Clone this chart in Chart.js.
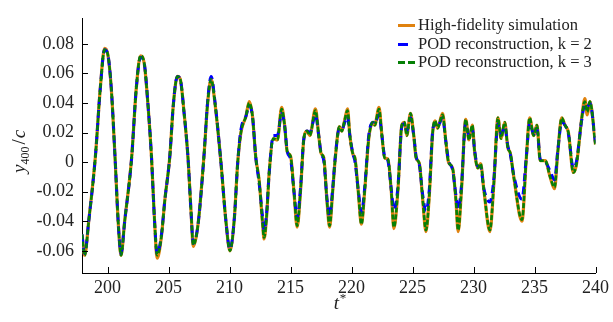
<!DOCTYPE html>
<html>
<head>
<meta charset="utf-8">
<script src="https://cdn.jsdelivr.net/npm/chart.js@4"></script>
<style>
  body { margin: 0; background: #fff; }
  #wrap { width: 613px; height: 322px; }
</style>
</head>
<body>
<div id="wrap"><canvas id="lineChart"></canvas></div>
<script>
// time t* (at peaks, troughs and turns)
var tValues = [
  197.9, 198.12, 198.45, 198.99, 199.4, 199.75, 200.0, 200.3, 200.61, 200.9,
  201.1, 201.4, 201.97, 202.35, 202.7, 203.0, 203.3, 203.6, 203.85, 204.06,
  204.4, 204.7, 205.09, 205.4, 205.72, 205.96, 206.25, 206.59, 206.85, 207.02,
  207.4, 207.89, 208.2, 208.49, 208.8, 209.3, 209.7, 210.03, 210.39, 210.66,
  210.93, 211.34, 211.61, 211.88, 212.15, 212.42, 212.69, 212.83, 213.05, 213.24,
  213.59, 213.92, 214.27, 214.51, 214.73, 215.0, 215.27, 215.54, 215.82, 216.09,
  216.36, 216.58, 217.04, 217.31, 217.5, 217.72, 217.99, 218.2, 218.45, 218.67,
  219.0, 219.2, 219.45, 219.67, 219.86, 220.13, 220.27, 220.54, 220.81, 221.08,
  221.41, 221.76, 221.9, 222.25, 222.49, 222.71, 222.98, 223.25, 223.47, 223.8,
  224.12, 224.34, 224.53, 224.83, 225.1, 225.29, 225.56, 225.83, 226.1, 226.37,
  226.65, 226.84, 227.05, 227.46, 227.73, 227.95, 228.28, 228.55, 228.74, 229.01,
  229.36, 229.63, 229.9, 230.09, 230.36, 230.58, 230.85, 231.34, 231.67, 232.0,
  232.26, 232.56, 232.81, 233.02, 233.3, 233.97, 234.33, 234.6, 234.93, 235.2,
  235.47, 235.88, 236.28, 236.64, 236.91, 237.23, 237.5, 237.78, 238.18, 238.45,
  238.86, 239.13, 239.32, 239.54, 240.0
];

var hiFi = [
  -0.049, -0.063, -0.040, 0.003, 0.050, 0.077, 0.0735, 0.050, 0.003, -0.045,
  -0.063, -0.040, 0.003, 0.050, 0.072, 0.067, 0.040, 0.003, -0.040, -0.065,
  -0.051, -0.025, 0.003, 0.040, 0.058, 0.056, 0.035, 0.003, -0.035, -0.057,
  -0.043, 0.003, 0.040, 0.056, 0.040, -0.001, -0.040, -0.060, -0.038, -0.001,
  0.020, 0.031, 0.041, 0.031, 0.003, -0.012, -0.040, -0.052, -0.035, -0.008,
  0.016, 0.015, 0.037, 0.025, 0.007, 0.004, -0.019, -0.044, -0.019, 0.016,
  0.021, 0.018, 0.036, 0.018, 0.006, 0.003, -0.027, -0.044, -0.020, 0.003,
  0.024, 0.021, 0.029, 0.036, 0.018, 0.005, 0.003, -0.019, -0.042, -0.019,
  0.016, 0.027, 0.025, 0.037, 0.018, 0.003, 0.002, -0.019, -0.045, -0.019,
  0.025, 0.027, 0.018, 0.033, 0.018, 0.003, -0.001, -0.025, -0.047, -0.023,
  0.020, 0.028, 0.023, 0.033, 0.014, 0.000, -0.004, -0.025, -0.047, -0.019,
  0.029, 0.015, 0.025, 0.007, -0.004, -0.001, -0.019, -0.047, -0.014, 0.030,
  0.016, 0.027, 0.010, 0.006, -0.010, -0.040, 0.003, 0.030, 0.018, 0.025,
  0.001, 0.001, -0.010, -0.018, 0.007, 0.030, 0.025, 0.020, -0.007, -0.001,
  0.029, 0.043, 0.032, 0.041, 0.012
];

var pod2 = [
  -0.049, -0.062, -0.040, 0.003, 0.050, 0.076, 0.0735, 0.050, 0.003, -0.045,
  -0.062, -0.040, 0.003, 0.050, 0.071, 0.067, 0.040, 0.003, -0.040, -0.062,
  -0.050, -0.025, 0.003, 0.040, 0.058, 0.056, 0.035, 0.003, -0.035, -0.055,
  -0.043, 0.003, 0.041, 0.058, 0.041, -0.001, -0.040, -0.059, -0.038, -0.001,
  0.022, 0.031, 0.038, 0.031, 0.003, -0.014, -0.036, -0.046, -0.033, -0.008,
  0.018, 0.018, 0.033, 0.025, 0.007, 0.002, -0.019, -0.038, -0.017, 0.016,
  0.021, 0.020, 0.032, 0.018, 0.006, 0.001, -0.025, -0.037, -0.018, 0.004,
  0.023, 0.022, 0.027, 0.031, 0.018, 0.005, 0.001, -0.018, -0.034, -0.017,
  0.018, 0.027, 0.026, 0.032, 0.018, 0.004, 0.001, -0.018, -0.032, -0.017,
  0.024, 0.026, 0.021, 0.030, 0.018, 0.004, -0.002, -0.022, -0.033, -0.019,
  0.021, 0.026, 0.024, 0.030, 0.014, 0.001, -0.005, -0.022, -0.032, -0.016,
  0.027, 0.018, 0.023, 0.008, -0.003, -0.003, -0.018, -0.027, -0.011, 0.026,
  0.019, 0.024, 0.011, 0.005, -0.009, -0.025, 0.004, 0.027, 0.019, 0.023,
  0.002, 0.000, -0.006, -0.012, 0.008, 0.027, 0.025, 0.019, -0.004, 0.001,
  0.028, 0.039, 0.037, 0.040, 0.013
];

var pod3 = [
  -0.049, -0.063, -0.040, 0.003, 0.050, 0.076, 0.0735, 0.050, 0.003, -0.045,
  -0.063, -0.040, 0.003, 0.050, 0.072, 0.067, 0.040, 0.003, -0.040, -0.063,
  -0.051, -0.025, 0.003, 0.040, 0.058, 0.056, 0.035, 0.003, -0.035, -0.056,
  -0.043, 0.003, 0.040, 0.056, 0.040, -0.001, -0.040, -0.060, -0.038, -0.001,
  0.020, 0.031, 0.040, 0.031, 0.003, -0.012, -0.040, -0.051, -0.035, -0.008,
  0.016, 0.015, 0.036, 0.025, 0.007, 0.004, -0.019, -0.043, -0.019, 0.016,
  0.021, 0.018, 0.035, 0.018, 0.006, 0.003, -0.027, -0.043, -0.020, 0.003,
  0.024, 0.021, 0.029, 0.035, 0.018, 0.005, 0.003, -0.019, -0.042, -0.019,
  0.016, 0.027, 0.025, 0.036, 0.018, 0.003, 0.002, -0.019, -0.044, -0.019,
  0.025, 0.027, 0.018, 0.033, 0.018, 0.003, -0.001, -0.025, -0.046, -0.023,
  0.020, 0.028, 0.023, 0.032, 0.014, 0.000, -0.004, -0.025, -0.046, -0.019,
  0.029, 0.015, 0.025, 0.007, -0.004, -0.001, -0.019, -0.046, -0.014, 0.030,
  0.016, 0.027, 0.010, 0.006, -0.010, -0.039, 0.003, 0.030, 0.018, 0.025,
  0.001, 0.001, -0.010, -0.017, 0.007, 0.030, 0.025, 0.020, -0.007, -0.001,
  0.029, 0.041, 0.034, 0.041, 0.012
];

var xTicks = [200, 205, 210, 215, 220, 225, 230, 235, 240];
var yTicks = [-0.06, -0.04, -0.02, 0, 0.02, 0.04, 0.06, 0.08];
var seriesNames = [
  "High-fidelity simulation",
  "POD reconstruction, k = 2",
  "POD reconstruction, k = 3",
];

var serif = "'Liberation Serif', 'Times New Roman', serif";

function toPoints(ys) {
  return tValues.map((t, i) => ({ x: t, y: ys[i] }));
}

// ticks pointing into the plot, axis titles with sub/superscripts, legend
var decorations = {
  id: "decorations",
  afterDraw(chart) {
    const ctx = chart.ctx,
      area = chart.chartArea,
      xs = chart.scales.x,
      ys = chart.scales.y;
    ctx.save();
    ctx.strokeStyle = "#000";
    ctx.lineWidth = 1;
    ctx.beginPath();
    xTicks.forEach((v) => {
      const px = Math.round(xs.getPixelForValue(v)) + 0.5;
      ctx.moveTo(px, area.bottom);
      ctx.lineTo(px, area.bottom - 6);
    });
    yTicks.forEach((v) => {
      const py = Math.round(ys.getPixelForValue(v)) + 0.5;
      ctx.moveTo(area.left, py);
      ctx.lineTo(area.left + 6, py);
    });
    ctx.stroke();

    ctx.fillStyle = "#222";
    // x title: t*
    const cx = (area.left + area.right) / 2;
    ctx.font = "italic 19px " + serif;
    ctx.textBaseline = "alphabetic";
    ctx.textAlign = "left";
    ctx.fillText("t", cx - 5, 309);
    ctx.font = "13px " + serif;
    ctx.fillText("*", cx + 1, 302);

    // y title: y_400 / c
    ctx.save();
    ctx.translate(25, (area.top + area.bottom) / 2);
    ctx.rotate(-Math.PI / 2);
    ctx.textAlign = "left";
    let x0 = -27;
    ctx.font = "italic 19px " + serif;
    ctx.fillText("y", x0, 0);
    x0 += ctx.measureText("y").width;
    ctx.font = "12px " + serif;
    ctx.fillText("400", x0, 4);
    x0 += ctx.measureText("400").width + 2;
    ctx.font = "19px " + serif;
    ctx.fillText("/", x0, 0);
    x0 += ctx.measureText("/").width + 1;
    ctx.font = "italic 19px " + serif;
    ctx.fillText("c", x0, 0);
    ctx.restore();

    // legend
    const rows = [25, 44, 62];
    chart.data.datasets.forEach((ds, i) => {
      ctx.save();
      ctx.strokeStyle = ds.borderColor;
      ctx.lineWidth = 3;
      ctx.setLineDash(ds.legendDash);
      ctx.beginPath();
      ctx.moveTo(398, rows[i] + 0.5);
      ctx.lineTo(415, rows[i] + 0.5);
      ctx.stroke();
      ctx.restore();
      ctx.font = "16.5px " + serif;
      ctx.fillStyle = "#222";
      ctx.textBaseline = "middle";
      ctx.fillText(ds.label, 418, rows[i] + 1);
    });
    ctx.restore();
  },
};

const ctx = document.getElementById("lineChart");
var chart = new Chart(ctx, {
  type: "line",
  data: {
    datasets: [
      {
        label: seriesNames[0],
        data: toPoints(hiFi),
        borderColor: "#e0820f",
        borderWidth: 3.2,
        legendDash: [],
        order: 3,
      },
      {
        label: seriesNames[1],
        data: toPoints(pod2),
        borderColor: "#0000ff",
        borderWidth: 3,
        borderDash: [8, 5],
        legendDash: [10, 20],
        order: 2,
      },
      {
        label: seriesNames[2],
        data: toPoints(pod3),
        borderColor: "#068006",
        borderWidth: 2.6,
        borderDash: [5, 2],
        legendDash: [7, 3],
        order: 1,
      },
    ],
  },
  options: {
    responsive: true,
    maintainAspectRatio: false,
    animation: false,
    layout: { padding: { top: 9, right: 14, left: 0, bottom: 0 } },
    elements: {
      point: { radius: 0 },
      line: { cubicInterpolationMode: "monotone", borderCapStyle: "butt" },
    },
    plugins: {
      legend: { display: false },
      tooltip: { enabled: false },
    },
    scales: {
      x: {
        type: "linear",
        min: 197.9,
        max: 240,
        grid: { display: false, drawTicks: false, tickLength: 0 },
        border: { display: true, color: "#000", width: 1 },
        afterBuildTicks: (s) => {
          s.ticks = xTicks.map((v) => ({ value: v }));
        },
        afterFit: (s) => {
          s.height = 49;
        },
        ticks: {
          color: "#222",
          font: { family: serif, size: 18 },
          padding: 4,
          maxRotation: 0,
          callback: (v) => String(v),
        },
      },
      y: {
        type: "linear",
        min: -0.075,
        max: 0.097,
        grid: { display: false, drawTicks: false, tickLength: 0 },
        border: { display: true, color: "#000", width: 1 },
        afterBuildTicks: (s) => {
          s.ticks = yTicks.map((v) => ({ value: v }));
        },
        afterFit: (s) => {
          s.width = 82;
        },
        ticks: {
          color: "#222",
          font: { family: serif, size: 18 },
          padding: 8,
          callback: (v) => (v === 0 ? "0" : v.toFixed(2)),
        },
      },
    },
  },
  plugins: [decorations],
});
</script>
</body>
</html>
